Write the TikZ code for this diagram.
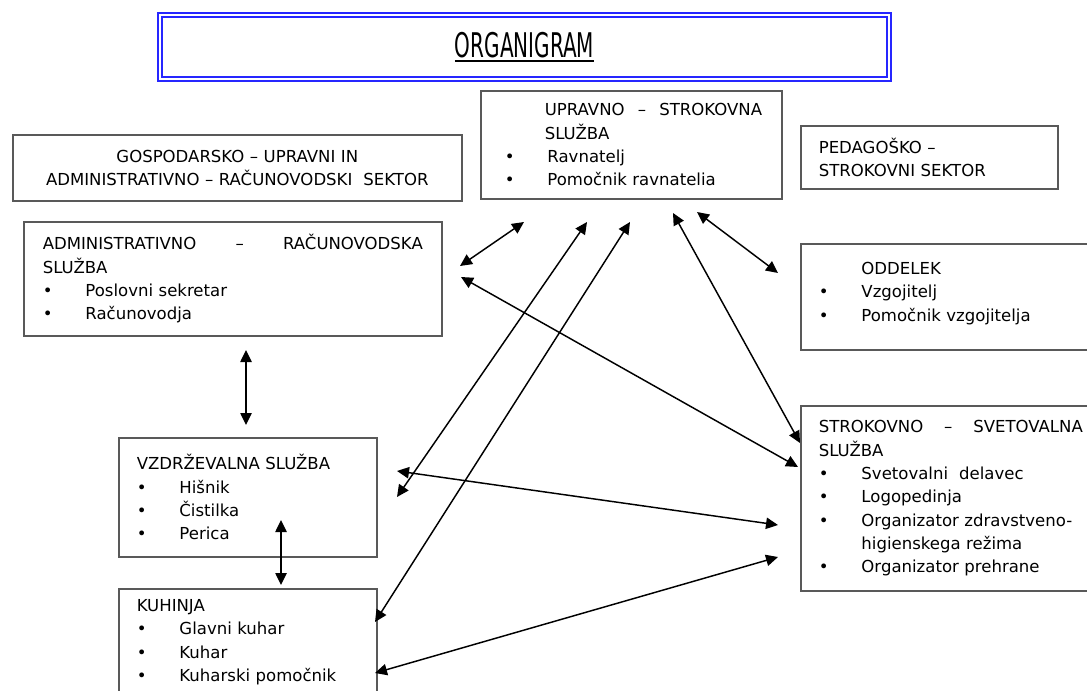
\documentclass[tikz,border=0pt]{standalone}
\usepackage{fontspec}
\setmainfont{DejaVu Sans}
\usetikzlibrary{arrows.meta}

% bullet item and underlined title
\newcommand{\itm}[1]{\makebox[32pt][l]{\textbullet}#1}
\newcommand{\ulbox}[1]{\setbox0\hbox{#1}\rlap{\rule[-3.5pt]{\wd0}{1.8pt}}\box0}

\begin{document}
\begin{tikzpicture}[x=0.75pt, y=-0.75pt,
  box/.style={draw=black!65, line width=1.2pt, anchor=north west, align=left, inner ysep=0pt,
    font=\fontsize{12.4}{17.5}\selectfont},
  arrow/.style={{Triangle[length=9pt,width=8.5pt]}-{Triangle[length=9pt,width=8.5pt]}, line width=1.1pt}
]
\useasboundingbox (0,0) rectangle (1087,691);
\clip (0,0) rectangle (1087,691);

% Title
\node[draw=blue!85, line width=1.2pt, double=white, double distance=2.2pt,
  minimum width=546.75pt, minimum height=48pt, font=\fontsize{15}{15}\selectfont] (title) at (524.5,47)
  {\ulbox{\scalebox{1}[1.7]{ORGANIGRAM}}};

% Sectors
\node[box, text width=324.75pt, align=center, inner xsep=6pt, minimum height=49.5pt] (gosp) at (12,134)
  {GOSPODARSKO – UPRAVNI IN\\ADMINISTRATIVNO – RAČUNOVODSKI\ \ SEKTOR};
\node[box, text width=165.75pt, inner xsep=13.5pt, minimum height=47.25pt] (ped) at (800,125)
  {PEDAGOŠKO –\\STROKOVNI SEKTOR};

% Services
\node[box, text width=189.75pt, inner xsep=18pt, minimum height=81pt] (uprav) at (480,90)
  {\hspace*{30pt}\makebox[163pt][s]{UPRAVNO\hfill–\hfill STROKOVNA}\\\hspace*{30pt}SLUŽBA\\
   \itm{Ravnatelj}\\\itm{Pomočnik ravnatelia}};
\node[box, text width=285pt, inner xsep=14.25pt, minimum height=85.5pt] (adm) at (23,221)
  {\makebox[285pt][s]{ADMINISTRATIVNO\hfill–\hfill RAČUNOVODSKA}\\SLUŽBA\\
   \itm{Poslovni sekretar}\\\itm{Računovodja}};
\node[box, text width=198pt, inner xsep=13.5pt, minimum height=79.5pt] (odd) at (800,243)
  {\hspace*{32pt}ODDELEK\\\itm{Vzgojitelj}\\\itm{Pomočnik vzgojitelja}\\[-10pt]\mbox{}};
\node[box, text width=166.5pt, inner xsep=13.5pt, minimum height=89.25pt] (vzd) at (118,437)
  {VZDRŽEVALNA SLUŽBA\\\itm{Hišnik}\\\itm{Čistilka}\\\itm{Perica}};
\node[box, text width=166.5pt, inner xsep=13.5pt, inner ysep=8pt] (kuh) at (118,588)
  {KUHINJA\\\itm{Glavni kuhar}\\\itm{Kuhar}\\\itm{Kuharski pomočnik}\\\mbox{}};
\node[box, text width=198pt, inner xsep=13.5pt, minimum height=138.75pt] (strok) at (800,405)
  {\makebox[198pt][s]{STROKOVNO\hfill–\hfill SVETOVALNA}\\SLUŽBA\\
   \itm{Svetovalni\ \ delavec}\\\itm{Logopedinja}\\\itm{Organizator zdravstveno-}\\
   \hspace*{32pt}higienskega režima\\\itm{Organizator prehrane}};

% Arrow ends
\coordinate (adm-e1) at (460,266);  \coordinate (up-w1) at (524,222);
\coordinate (adm-e2) at (461,277);  \coordinate (str-w3) at (798,467);
\coordinate (vzd-e1) at (397,471);  \coordinate (str-w4) at (778,525);
\coordinate (vzd-e2) at (397,497);  \coordinate (up-s1) at (587,222);
\coordinate (kuh-e1) at (375,622);  \coordinate (up-s2) at (630,222);
\coordinate (kuh-e2) at (375,673);  \coordinate (str-w5) at (778,557);
\coordinate (up-s3) at (673,213);   \coordinate (str-w1) at (800,443);
\coordinate (up-s4) at (697,212);   \coordinate (odd-w) at (778,273);
\coordinate (adm-s) at (246,350);   \coordinate (vzd-n) at (246,425);
\coordinate (vzd-in) at (281,520);  \coordinate (kuh-n) at (281,585);

% Arrows
\draw[arrow] (adm-e1) -- (up-w1);
\draw[arrow] (adm-e2) -- (str-w3);
\draw[arrow] (vzd-e1) -- (str-w4);
\draw[arrow] (vzd-e2) -- (up-s1);
\draw[arrow] (kuh-e1) -- (up-s2);
\draw[arrow] (kuh-e2) -- (str-w5);
\draw[arrow] (up-s3) -- (str-w1);
\draw[arrow] (up-s4) -- (odd-w);
\draw[arrow] (adm-s) -- (vzd-n);
\draw[arrow] (vzd-in) -- (kuh-n);

\end{tikzpicture}
\end{document}
